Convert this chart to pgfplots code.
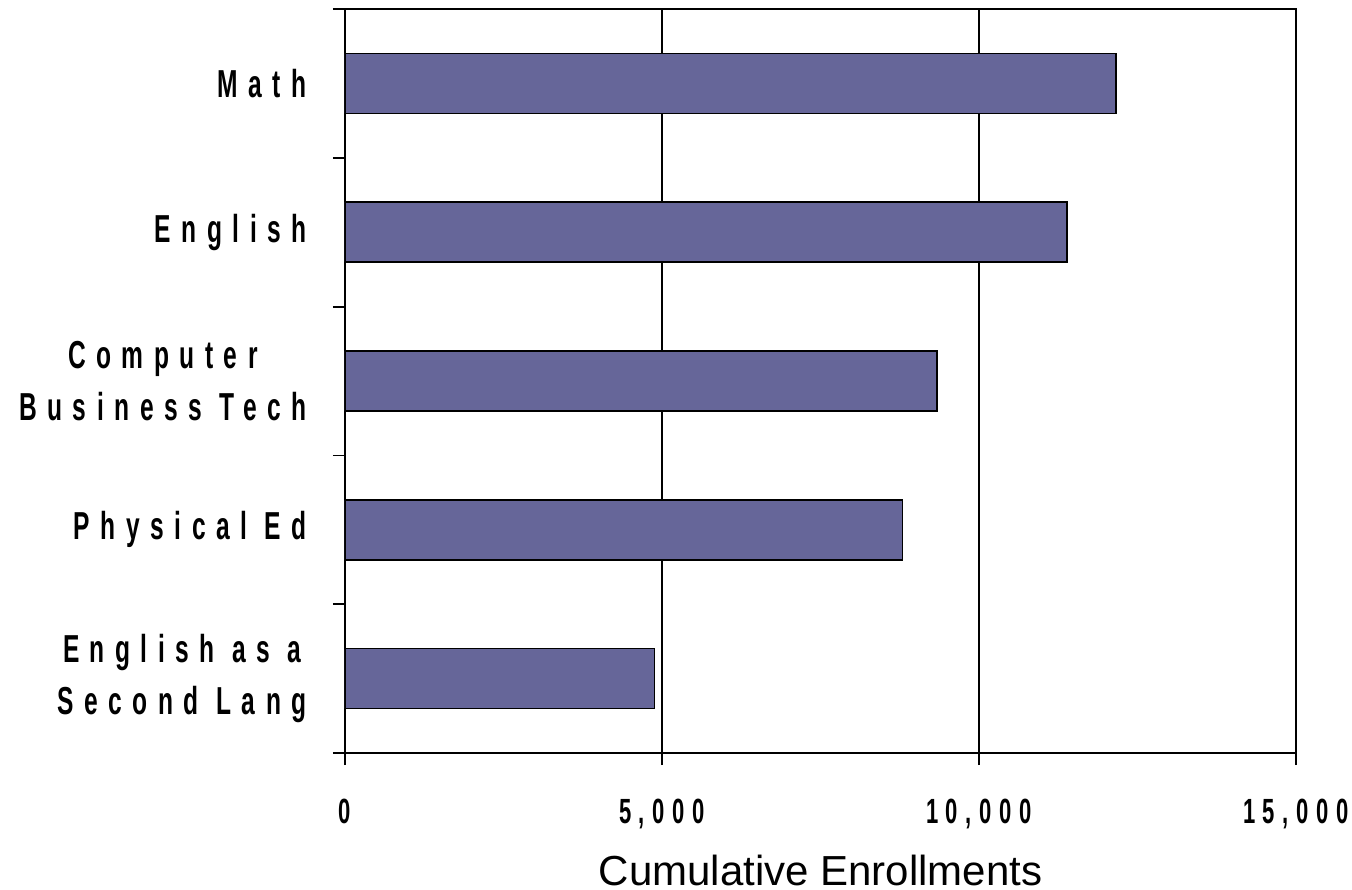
\documentclass[border=0pt]{standalone}
\usepackage{fontspec}
\setmainfont{Liberation Sans}
% narrow, widely tracked bold faces for the tick and category labels
\newfontfamily\spacedbold[FakeStretch=0.63, LetterSpace=22]{Liberation Sans Bold}
\newfontfamily\widebold[FakeStretch=0.63, LetterSpace=27]{Liberation Sans Bold}
\usepackage{pgfplots}
\pgfplotsset{compat=1.18}
\definecolor{barblue}{HTML}{666699}

\pgfplotstableread{
pos enroll
0 4885
1 8793
2 9335
3 11385
4 12160
}\enrolltable

\begin{document}
\begin{tikzpicture}
\begin{axis}[
  at={(0,0)}, anchor=south west,
  scale only axis,
  width=475.5bp, height=372bp,
  xbar, bar width=30bp,
  xmin=0, xmax=15000,
  ymin=-0.5, ymax=4.5,
  xtick={0,5000,10000,15000},
  xticklabels={0,{5,000},{10,000},{15,000}},
  ytick={0,1,2,3,4},
  yticklabels={{English as a\\Second Lang},{Physical Ed},{Computer\\Business Tech},{English},{Math}},
  minor ytick={-0.5,0.5,1.5,2.5,3.5,4.5},
  tick pos=left,
  tick align=outside,
  major tick length=6bp,
  minor tick length=6bp,
  every major y tick/.style={draw=none},
  every tick/.style={black, line width=0.9bp},
  axis line style={black, line width=1bp},
  xmajorgrids,
  major x grid style={black, line width=0.8bp},
  xticklabel style={font=\spacedbold\fontsize{17.5bp}{21bp}\selectfont, anchor=base, yshift=-29bp, inner sep=0pt},
  yticklabel style={font=\widebold\fontsize{19.5bp}{26bp}\selectfont, align=center, anchor=east, inner sep=0pt, xshift=-13bp},
  xlabel={Cumulative Enrollments},
  xlabel style={font=\fontsize{21bp}{25bp}\selectfont, at={(axis description cs:0.5,0)}, anchor=base, yshift=-66bp, inner sep=0pt},
]
\addplot[fill=barblue, draw=black, line width=0.75bp] table[x=enroll, y=pos] {\enrolltable};
\end{axis}
\pgfresetboundingbox
\path[use as bounding box] (-172.5bp,-68.5bp) rectangle (503.5bp,376.5bp);
\end{tikzpicture}
\end{document}
